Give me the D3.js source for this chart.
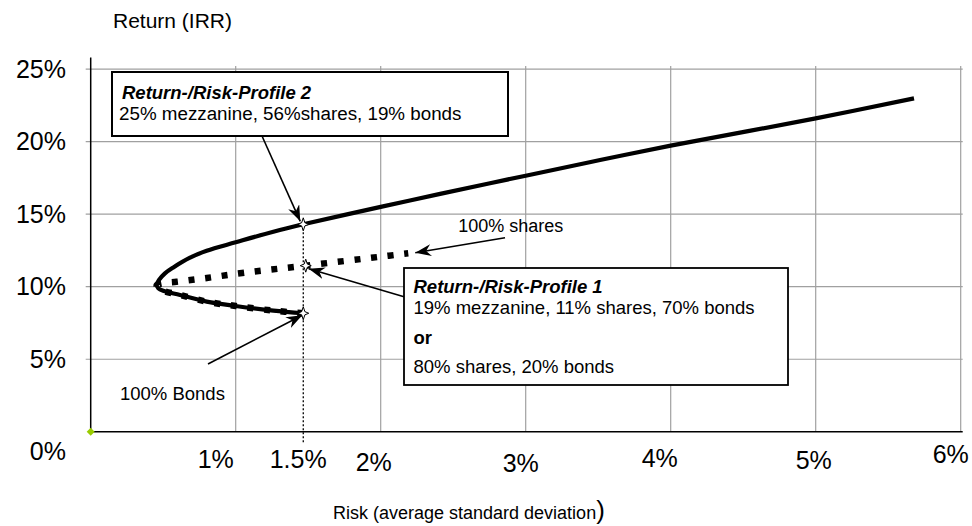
<!DOCTYPE html>
<html><head><meta charset="utf-8">
<script src="https://cdn.jsdelivr.net/npm/d3@7"></script>
<style>body{margin:0;background:#fff} svg{display:block} text{font-family:"Liberation Sans",Arial,sans-serif;fill:#000}</style>
</head><body><svg id="c" width="972" height="526"></svg>
<script>
// ---------- data ----------
const xTickValues = [1, 1.5, 2, 3, 4, 5, 6];
const xTickLabels = ["1%", "1.5%", "2%", "3%", "4%", "5%", "6%"];
const xGridValues = [1, 2, 3, 4, 5, 6];
const yTickValues = [0, 5, 10, 15, 20, 25];
const yTickLabels = ["0%", "5%", "10%", "15%", "20%", "25%"];
// frontier with mezzanine (solid)
const mezzRisk   = [1.466, 1.26, 1.0, 0.8, 0.616, 0.5, 0.466, 0.455, 0.47, 0.512, 0.57, 0.685, 0.8, 1.0, 1.26, 1.466, 2.0, 2.41, 3.0, 3.513, 4.0, 5.0, 5.678];
const mezzReturn = [8.17, 8.35, 8.67, 8.97, 9.43, 9.72, 9.9, 10.1, 10.45, 10.92, 11.33, 12.0, 12.48, 13.06, 13.79, 14.3, 15.5, 16.4, 17.65, 18.73, 19.72, 21.6, 22.98];
// frontier shares + bonds (dotted)
const sbRisk   = [1.466, 1.26, 1.0, 0.8, 0.616, 0.5, 0.466, 0.455, 0.5, 0.592, 0.8, 1.064, 1.483, 2.0, 2.19];
const sbReturn = [8.17, 8.35, 8.67, 8.97, 9.43, 9.72, 9.9, 10.1, 10.25, 10.34, 10.6, 10.97, 11.45, 12.07, 12.3];
// marked portfolios: profile 2, profile 1, 100% bonds
const profileRisk   = [1.466, 1.483, 1.466];
const profileReturn = [14.3, 11.45, 8.17];

// ---------- layout ----------
const svg = d3.select("#c");
const x = d3.scaleLinear().domain([0, 6]).range([90.7, 960.7]);
const y = d3.scaleLinear().domain([0, 25]).range([431.8, 69.05]);
const gridColor = "#a0a0a0";

// horizontal gridlines (with small ticks left of axis)
svg.append("g").selectAll("line").data(yTickValues.filter(v => v > 0)).join("line")
  .attr("x1", x(0) - 5).attr("x2", x(6) + 2)
  .attr("y1", d => y(d)).attr("y2", d => y(d))
  .attr("stroke", gridColor).attr("stroke-width", 1.2);
// vertical gridlines
svg.append("g").selectAll("line").data(xGridValues).join("line")
  .attr("x1", d => x(d)).attr("x2", d => x(d))
  .attr("y1", y(0)).attr("y2", y(25) - 3)
  .attr("stroke", gridColor).attr("stroke-width", 1.2);

// axes
svg.append("line").attr("x1", x(0)).attr("x2", x(6) + 2).attr("y1", y(0)).attr("y2", y(0))
  .attr("stroke", "#000").attr("stroke-width", 1.5);
svg.append("line").attr("x1", x(0)).attr("x2", x(0)).attr("y1", y(0)).attr("y2", y(25) - 11.5)
  .attr("stroke", "#000").attr("stroke-width", 1.5);

// y tick labels
const yLabelDy = [28.2, 8.5, 8.5, 8.5, 8.5, 8.5];
svg.append("g").selectAll("text").data(yTickValues).join("text")
  .attr("x", 66).attr("y", (d, i) => y(d) + yLabelDy[i])
  .attr("text-anchor", "end").style("font-size", "25px")
  .text((d, i) => yTickLabels[i]);

// x tick labels (hand-placed nudges as in the original)
const xLabelDx = [-20, -10, -7, -5, -11, -2, -10];
const xLabelDy = [36.5, 36.2, 38.9, 39.9, 34.9, 37.5, 31.5];
svg.append("g").selectAll("text").data(xTickValues).join("text")
  .attr("x", (d, i) => x(d) + xLabelDx[i]).attr("y", (d, i) => y(0) + xLabelDy[i])
  .attr("text-anchor", "middle").style("font-size", "25px")
  .text((d, i) => xTickLabels[i]);

// axis titles
svg.append("text").attr("x", 113).attr("y", 28.3).style("font-size", "21px").text("Return (IRR)");
const xt = svg.append("text").attr("x", 333).attr("y", 519).style("font-size", "18px");
xt.append("tspan").text("Risk (average standard deviation");
xt.append("tspan").style("font-size", "26px").attr("dy", 0).text(")");

// dotted vertical line at the chosen risk level
svg.append("line")
  .attr("x1", x(profileRisk[0])).attr("x2", x(profileRisk[0]))
  .attr("y1", y(profileReturn[0])).attr("y2", y(0) + 12)
  .attr("stroke", "#000").attr("stroke-width", 1.3).attr("stroke-dasharray", "2,2");

// curves
const line = d3.line().x(d => x(d[0])).y(d => y(d[1])).curve(d3.curveCatmullRom.alpha(0.5));
svg.append("path").datum(mezzRisk.map((r, i) => [r, mezzReturn[i]]))
  .attr("d", line).attr("fill", "none").attr("stroke", "#000").attr("stroke-width", 4.2)
  .attr("stroke-linejoin", "round");
svg.append("path").datum(sbRisk.map((r, i) => [r, sbReturn[i]]))
  .attr("d", line).attr("fill", "none").attr("stroke", "#000").attr("stroke-width", 6.5)
  .attr("stroke-dasharray", "6,10.7");

// origin marker
svg.append("path").attr("d", "M0,-4L4,0L0,4L-4,0Z")
  .attr("transform", `translate(${x(0)},${y(0)})`).attr("fill", "#99cc00");

// arrowhead marker
const defs = svg.append("defs");
defs.append("marker").attr("id", "ah").attr("viewBox", "0 0 16 12")
  .attr("refX", 16).attr("refY", 6).attr("markerWidth", 16).attr("markerHeight", 12)
  .attr("markerUnits", "userSpaceOnUse").attr("orient", "auto")
  .append("path").attr("d", "M0,0L16,6L0,12L5,6Z").attr("fill", "#000");

function arrow(x1, y1, x2, y2) {
  svg.append("line").attr("x1", x1).attr("y1", y1).attr("x2", x2).attr("y2", y2)
    .attr("stroke", "#000").attr("stroke-width", 1.6).attr("marker-end", "url(#ah)");
}
// annotation arrows point at the marked portfolios
arrow(262, 136, x(profileRisk[0]) - 3, y(profileReturn[0]) - 3);
arrow(505, 237.7, x(sbRisk[sbRisk.length - 1]) + 7, y(sbReturn[sbReturn.length - 1]) - 0.5);
arrow(404, 296.7, x(profileRisk[1]) + 3, y(profileReturn[1]) + 3);
arrow(208, 364, x(profileRisk[2]) - 1, y(profileReturn[2]) + 2);

// star markers
const star = "M0,-6.5L1.6,-1.6L5.5,0L1.6,1.6L0,6.5L-1.6,1.6L-5.5,0L-1.6,-1.6Z";
svg.append("g").selectAll("path").data(profileRisk).join("path")
  .attr("d", star)
  .attr("transform", (d, i) => `translate(${x(d)},${y(profileReturn[i])})`)
  .attr("fill", "#fff").attr("stroke", "#000").attr("stroke-width", 1);

// annotation boxes
svg.append("rect").attr("x", 112).attr("y", 72).attr("width", 396).attr("height", 64)
  .attr("fill", "#fff").attr("stroke", "#000").attr("stroke-width", 2);
svg.append("text").attr("x", 122).attr("y", 99).style("font-size", "18.5px")
  .style("font-weight", "bold").style("font-style", "italic").text("Return-/Risk-Profile 2");
svg.append("text").attr("x", 119).attr("y", 120).style("font-size", "18.8px")
  .text("25% mezzanine, 56%shares, 19% bonds");

svg.append("rect").attr("x", 404).attr("y", 268).attr("width", 384).attr("height", 117)
  .attr("fill", "#fff").attr("stroke", "#000").attr("stroke-width", 1.8);
svg.append("text").attr("x", 413.5).attr("y", 293.3).style("font-size", "18.5px")
  .style("font-weight", "bold").style("font-style", "italic").text("Return-/Risk-Profile 1");
svg.append("text").attr("x", 413.5).attr("y", 314.3).style("font-size", "18.5px")
  .text("19% mezzanine, 11% shares, 70% bonds");
svg.append("text").attr("x", 413.5).attr("y", 344.3).style("font-size", "18.5px")
  .style("font-weight", "bold").text("or");
svg.append("text").attr("x", 413.5).attr("y", 373.3).style("font-size", "18.5px")
  .text("80% shares, 20% bonds");

// point labels
svg.append("text").attr("x", 458.3).attr("y", 232.3).style("font-size", "18px").text("100% shares");
svg.append("text").attr("x", 120).attr("y", 400).style("font-size", "18.5px").text("100% Bonds");
</script></body></html>
